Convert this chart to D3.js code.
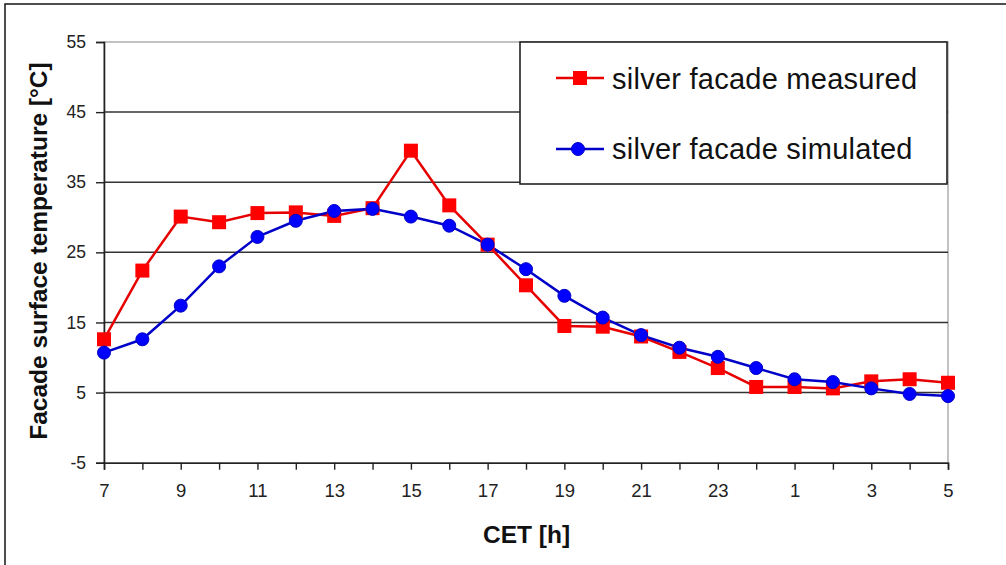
<!DOCTYPE html>
<html>
<head>
<meta charset="utf-8">
<script src="https://cdn.jsdelivr.net/npm/d3@7"></script>
<style>
  html, body { margin: 0; padding: 0; background: #fff; }
  svg { display: block; font-family: "Liberation Sans", Arial, sans-serif; }
</style>
</head>
<body>
<svg id="chart" width="1006" height="565"></svg>
<script>
// ---- data ----
const hours = ["7","8","9","10","11","12","13","14","15","16","17","18","19","20","21","22","23","0","1","2","3","4","5"];
const measured = [12.6, 22.4, 30.1, 29.3, 30.6, 30.7, 30.2, 31.3, 39.5, 31.7, 26.1, 20.3, 14.5, 14.4, 13.0, 10.8, 8.5, 5.8, 5.8, 5.6, 6.6, 6.9, 6.4];
const simulated = [10.7, 12.6, 17.4, 23.0, 27.2, 29.5, 30.9, 31.2, 30.1, 28.8, 26.1, 22.6, 18.8, 15.7, 13.2, 11.4, 10.1, 8.5, 6.9, 6.5, 5.6, 4.8, 4.5];
const yTicks = [-5, 5, 15, 25, 35, 45, 55];
const seriesNames = ["silver facade measured", "silver facade simulated"];

(function () {
// ---- layout ----
const svg = d3.select("#chart");
const pL = 104, pR = 948, pT = 42, pB = 462.7;

// outer frame (extends beyond the right/bottom edges)
svg.append("rect").attr("x", 5).attr("y", 4).attr("width", 1100).attr("height", 700)
  .attr("fill", "#fff").attr("stroke", "#222").attr("stroke-width", 1.6);

const x = d3.scaleLinear().domain([0, hours.length - 1]).range([pL, pR]);
const y = d3.scaleLinear().domain([-5, 55]).range([pB, pT]);

// plot border (top/right light gray)
svg.append("rect").attr("x", pL).attr("y", pT).attr("width", pR - pL).attr("height", pB - pT)
  .attr("fill", "none").attr("stroke", "#999").attr("stroke-width", 1.2);

// gridlines
svg.append("g").selectAll("line").data(yTicks.filter(d => d > -5 && d < 55)).join("line")
  .attr("x1", pL).attr("x2", pR).attr("y1", d => y(d)).attr("y2", d => y(d))
  .attr("stroke", "#333").attr("stroke-width", 1.5);

// y axis
const yAxis = d3.axisLeft(y).tickValues(yTicks).tickSize(8).tickPadding(10).tickFormat(d => String(d));
const gy = svg.append("g").attr("transform", `translate(${pL},0)`).call(yAxis);
gy.select(".domain").attr("stroke", "#222").attr("stroke-width", 1.6);
gy.selectAll(".tick line").attr("stroke", "#222").attr("stroke-width", 1.4);
gy.selectAll(".tick text").attr("font-size", 17.5).attr("fill", "#222")
  .attr("font-family", "'Liberation Sans', Arial, sans-serif");

// x axis
const xAxis = d3.axisBottom(x).tickValues(d3.range(hours.length)).tickSize(7).tickPadding(14)
  .tickFormat(i => (i % 2 === 0 ? hours[i] : ""));
const gx = svg.append("g").attr("transform", `translate(0,${pB})`).call(xAxis);
gx.select(".domain").attr("stroke", "#222").attr("stroke-width", 1.6);
gx.selectAll(".tick line").attr("stroke", "#222").attr("stroke-width", 1.4);
gx.selectAll(".tick text").attr("font-size", 18.5).attr("fill", "#222")
  .attr("font-family", "'Liberation Sans', Arial, sans-serif");

// axis titles
svg.append("text").attr("transform", "translate(46.5,251) rotate(-90)")
  .attr("text-anchor", "middle").attr("font-weight", "bold").attr("font-size", 24.5).attr("fill", "#111")
  .text("Facade surface temperature [°C]");
svg.append("text").attr("x", 526.5).attr("y", 543)
  .attr("text-anchor", "middle").attr("font-weight", "bold").attr("font-size", 24.5).attr("fill", "#111")
  .text("CET [h]");

// lines
const line = d3.line().x((d, i) => x(i)).y(d => y(d));
const redC = "#ff0000", redL = "#e60000", blueC = "#0000ff", blueL = "#0000c8";

svg.append("path").datum(measured).attr("d", line).attr("fill", "none")
  .attr("stroke", redL).attr("stroke-width", 2.5);
svg.append("path").datum(simulated).attr("d", line).attr("fill", "none")
  .attr("stroke", blueL).attr("stroke-width", 2.5);

// markers
svg.append("g").selectAll("rect").data(measured).join("rect")
  .attr("x", (d, i) => x(i) - 7).attr("y", d => y(d) - 7)
  .attr("width", 14).attr("height", 14).attr("fill", redC);
svg.append("g").selectAll("circle").data(simulated).join("circle")
  .attr("cx", (d, i) => x(i)).attr("cy", d => y(d)).attr("r", 6.5)
  .attr("fill", blueC).attr("stroke", blueL).attr("stroke-width", 1);

// legend
const lg = svg.append("g");
lg.append("rect").attr("x", 520).attr("y", 42).attr("width", 427).attr("height", 142)
  .attr("fill", "#fff").attr("stroke", "#222").attr("stroke-width", 1.6);
const legendY = [78, 149];
const baseY = [88.5, 158.8];
seriesNames.forEach((name, k) => {
  lg.append("line").attr("x1", 556).attr("x2", 604).attr("y1", legendY[k]).attr("y2", legendY[k])
    .attr("stroke", k === 0 ? redL : blueL).attr("stroke-width", 2.5);
  if (k === 0) {
    lg.append("rect").attr("x", 580 - 7).attr("y", legendY[k] - 7).attr("width", 14).attr("height", 14).attr("fill", redC);
  } else {
    lg.append("circle").attr("cx", 578).attr("cy", legendY[k]).attr("r", 6.5)
      .attr("fill", blueC).attr("stroke", blueL).attr("stroke-width", 1);
  }
  lg.append("text").attr("x", 612).attr("y", baseY[k]).attr("font-size", 29).attr("fill", "#111")
    .attr("letter-spacing", 0.25).text(name);
});
})();
</script>
</body>
</html>
